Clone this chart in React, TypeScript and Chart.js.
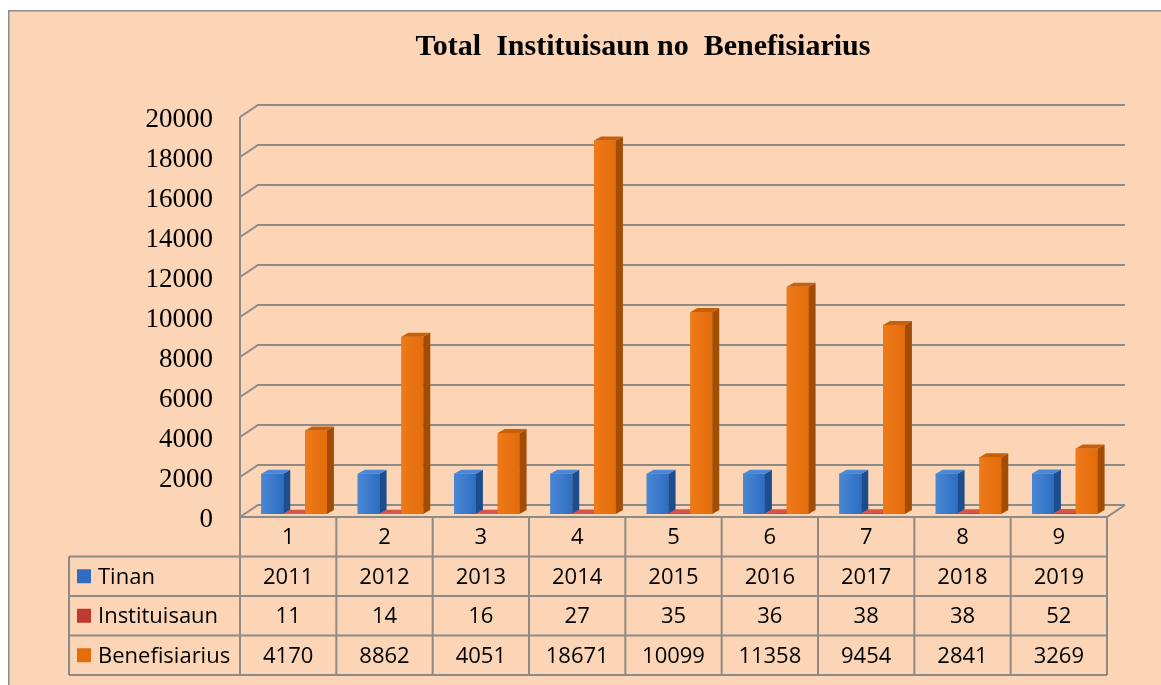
import React, { useEffect, useRef } from 'react';
import { Chart, registerables } from 'chart.js';

Chart.register(...registerables);

// ---- data ----
const titleText = 'Total  Instituisaun no  Benefisiarius';
const categories = ['1', '2', '3', '4', '5', '6', '7', '8', '9'];
const seriesNames = ['Tinan', 'Instituisaun', 'Benefisiarius'];
const tinan = [2011, 2012, 2013, 2014, 2015, 2016, 2017, 2018, 2019];
const instituisaun = [11, 14, 16, 27, 35, 36, 38, 38, 52];
const benefisiarius = [4170, 8862, 4051, 18671, 10099, 11358, 9454, 2841, 3269];
const yMin = 0;
const yMax = 20000;
const yStep = 2000;

// ---- styles ----
const FRONT = ['#2F6DC1', '#C0392E', '#E46C0A'];
const FRONT_LIGHT = ['#4A88D6', '#D04A40', '#EE7A1A'];
const SIDE = ['#1E4D8E', '#8B2420', '#A24C06'];
const TOP = ['#4B87D6', '#D65549', '#C8600B'];
const BG = '#FBD5B5';
const LINE = '#8E8A86';

const BAR_DX = 7;
const BAR_DY = -4;
const SHIFT_X = 6;
const SHIFT_Y = -3;
const WALL_DX = 18;
const WALL_DY = -12;
const ROW_H = 39.5;
const TABLE_LEFT = 69;
const TABLE_FONT = '22px "Open Sans"';

const frame3d = {
  id: 'frame3d',
  beforeDraw(chart: any) {
    const { ctx, width, height } = chart;
    ctx.save();
    ctx.fillStyle = '#ffffff';
    ctx.fillRect(0, 0, width, height);
    ctx.fillStyle = BG;
    ctx.fillRect(8, 10, width - 8, height - 10);
    ctx.strokeStyle = '#8c8c8c';
    ctx.lineWidth = 1.5;
    ctx.beginPath();
    ctx.moveTo(8.75, height);
    ctx.lineTo(8.75, 10.75);
    ctx.lineTo(width, 10.75);
    ctx.stroke();
    // title
    ctx.fillStyle = '#000';
    ctx.font = 'bold 30px "Liberation Serif"';
    ctx.textAlign = 'center';
    ctx.textBaseline = 'alphabetic';
    ctx.fillText(titleText, 643, 55);
    ctx.restore();
  },
  beforeDatasetsDraw(chart: any) {
    const { ctx, chartArea: a } = chart;
    const y = chart.scales.y;
    ctx.save();
    ctx.strokeStyle = LINE;
    ctx.lineWidth = 2;
    ctx.beginPath();
    ctx.moveTo(a.left, a.top);
    ctx.lineTo(a.left, a.bottom);
    ctx.stroke();
    y.ticks.forEach((t: any) => {
      const py = y.getPixelForValue(t.value);
      ctx.beginPath();
      ctx.moveTo(a.left, py);
      ctx.lineTo(a.left + WALL_DX, py + WALL_DY);
      ctx.lineTo(a.right + WALL_DX, py + WALL_DY);
      ctx.stroke();
    });
    ctx.beginPath();
    ctx.moveTo(a.left, a.bottom);
    ctx.lineTo(a.right, a.bottom);
    ctx.lineTo(a.right + WALL_DX, a.bottom + WALL_DY);
    ctx.stroke();
    ctx.restore();
    ctx.save();
    ctx.translate(SHIFT_X, SHIFT_Y);
  },
  afterDatasetsDraw(chart: any) {
    const { ctx } = chart;
    const n = chart.data.labels.length;
    for (let i = 0; i < n; i++) {
      chart.data.datasets.forEach((_ds: any, d: number) => {
        const el = chart.getDatasetMeta(d).data[i];
        if (!el) return;
        const p = el.getProps(['x', 'y', 'base', 'width'], true);
        const l = p.x - p.width / 2;
        const r = p.x + p.width / 2;
        const g = ctx.createLinearGradient(l, 0, r, 0);
        g.addColorStop(0, FRONT_LIGHT[d]);
        g.addColorStop(1, FRONT[d]);
        ctx.fillStyle = g;
        ctx.fillRect(l, p.y, r - l, p.base - p.y);
        ctx.fillStyle = SIDE[d];
        ctx.beginPath();
        ctx.moveTo(r, p.y);
        ctx.lineTo(r + BAR_DX, p.y + BAR_DY);
        ctx.lineTo(r + BAR_DX, p.base + BAR_DY);
        ctx.lineTo(r, p.base);
        ctx.closePath();
        ctx.fill();
        ctx.fillStyle = TOP[d];
        ctx.beginPath();
        ctx.moveTo(l, p.y);
        ctx.lineTo(l + BAR_DX, p.y + BAR_DY);
        ctx.lineTo(r + BAR_DX, p.y + BAR_DY);
        ctx.lineTo(r, p.y);
        ctx.closePath();
        ctx.fill();
      });
    }
    ctx.restore();
  },
  afterDraw(chart: any) {
    const { ctx, chartArea: a } = chart;
    const x = chart.scales.x;
    const n = categories.length;
    const colW = (a.right - a.left) / n;
    const rowsY = [0, 1, 2, 3, 4].map((k) => a.bottom + k * ROW_H);
    const rows = [tinan, instituisaun, benefisiarius];
    ctx.save();
    ctx.strokeStyle = LINE;
    ctx.lineWidth = 2;
    for (let k = 1; k <= 4; k++) {
      ctx.beginPath();
      ctx.moveTo(TABLE_LEFT, rowsY[k]);
      ctx.lineTo(a.right, rowsY[k]);
      ctx.stroke();
    }
    ctx.beginPath();
    ctx.moveTo(TABLE_LEFT, rowsY[1]);
    ctx.lineTo(TABLE_LEFT, rowsY[4]);
    ctx.stroke();
    for (let i = 0; i <= n; i++) {
      const px = a.left + i * colW;
      ctx.beginPath();
      ctx.moveTo(px, rowsY[0]);
      ctx.lineTo(px, rowsY[4]);
      ctx.stroke();
    }
    ctx.fillStyle = '#000';
    ctx.font = TABLE_FONT;
    ctx.textAlign = 'center';
    ctx.textBaseline = 'middle';
    categories.forEach((c, i) => {
      const cx = x.getPixelForValue(i);
      ctx.fillText(c, cx, (rowsY[0] + rowsY[1]) / 2 + 1);
      rows.forEach((row, r) => {
        ctx.fillText(String(row[i]), cx, (rowsY[r + 1] + rowsY[r + 2]) / 2 + 1);
      });
    });
    ctx.textAlign = 'left';
    seriesNames.forEach((name, r) => {
      const cy = (rowsY[r + 1] + rowsY[r + 2]) / 2;
      ctx.fillStyle = FRONT[r];
      ctx.fillRect(TABLE_LEFT + 8, cy - 7, 14, 14);
      ctx.fillStyle = '#000';
      ctx.fillText(name, TABLE_LEFT + 29, cy + 1);
    });
    ctx.restore();
  },
};

export default function App() {
  const canvasRef = useRef<HTMLCanvasElement | null>(null);

  useEffect(() => {
    const canvas = canvasRef.current;
    if (!canvas) return;
    const chart = new Chart(canvas, {
      type: 'bar',
      data: {
        labels: categories,
        datasets: [
          { label: seriesNames[0], data: tinan, backgroundColor: FRONT[0], borderWidth: 0 },
          { label: seriesNames[1], data: instituisaun, backgroundColor: FRONT[1], borderWidth: 0 },
          { label: seriesNames[2], data: benefisiarius, backgroundColor: FRONT[2], borderWidth: 0 },
        ],
      },
      options: {
        responsive: false,
        animation: false,
        devicePixelRatio: 1,
        layout: { padding: { left: 0, top: 117, right: 54, bottom: 168 } },
        datasets: { bar: { categoryPercentage: 0.68, barPercentage: 1 } },
        plugins: {
          legend: { display: false },
          tooltip: { enabled: false },
          title: { display: false },
        },
        scales: {
          x: { display: false },
          y: {
            min: yMin,
            max: yMax,
            ticks: {
              stepSize: yStep,
              color: '#000',
              padding: 19,
              labelOffset: 3,
              font: { family: '"Liberation Serif"', size: 27 },
              callback: (v: any) => String(v),
            },
            grid: { display: false },
            border: { display: false },
            afterFit: (s: any) => {
              s.width = 240;
            },
          },
        },
      },
      plugins: [frame3d],
    } as any);
    return () => chart.destroy();
  }, []);

  return (
    <div style={{ position: 'fixed', left: 0, top: 0, width: 1161, height: 685 }}>
      <canvas ref={canvasRef} width={1161} height={685} style={{ width: 1161, height: 685, display: 'block' }} />
    </div>
  );
}
